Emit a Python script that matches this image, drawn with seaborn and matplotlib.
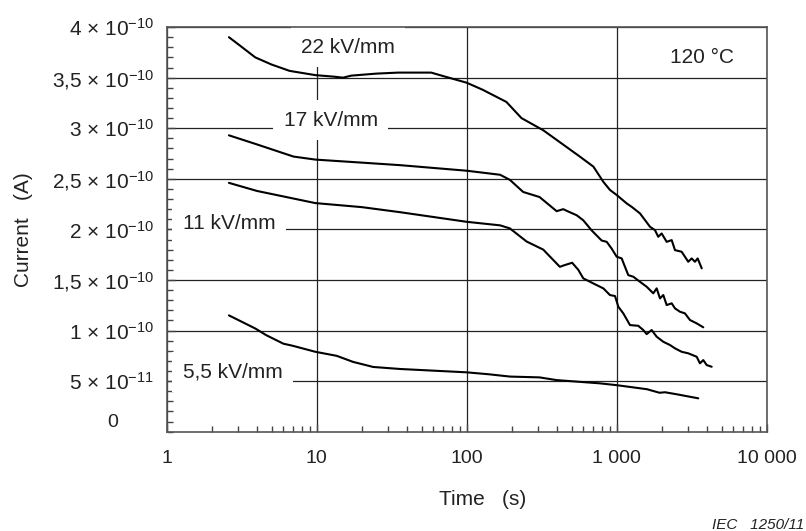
import matplotlib
matplotlib.use("Agg")
import matplotlib.pyplot as plt
import numpy as np
import pandas as pd
import seaborn as sns
from matplotlib.ticker import MultipleLocator, NullFormatter

# time (s) and current (units of 1e-10 A)
t_22 = [2.6, 3.0, 3.9, 5.0, 6.6, 9.8, 13, 15, 17, 25, 35, 58, 70, 100, 128, 184, 232,
        324, 568, 700, 815, 902, 1000, 1166, 1259, 1430, 1545, 1667, 1800, 1893, 1995,
        2154, 2327, 2448, 2712, 3000, 3162, 3326, 3467, 3690]
i_22 = [3.90, 3.83, 3.70, 3.63, 3.567, 3.525, 3.51, 3.50, 3.52, 3.54, 3.55, 3.55, 3.515,
        3.45, 3.38, 3.26, 3.10, 2.98, 2.72, 2.62, 2.47, 2.39, 2.34, 2.257, 2.223, 2.158,
        2.092, 2.026, 1.993, 1.927, 1.96, 1.877, 1.894, 1.795, 1.779, 1.68, 1.713, 1.68,
        1.713, 1.615]

t_17 = [2.6, 4, 7, 9.8, 20, 36, 100, 167, 194, 238, 306, 398, 440, 470, 541, 599, 681,
        794, 858, 926, 1000, 1080, 1136, 1195, 1291, 1430, 1585, 1754, 1848, 1944, 2046,
        2154, 2327, 2448, 2642, 2851, 3081, 3415, 3779]
i_17 = [2.93, 2.84, 2.72, 2.69, 2.66, 2.635, 2.58, 2.54, 2.49, 2.37, 2.32, 2.18, 2.20,
        2.18, 2.14, 2.09, 1.99, 1.89, 1.877, 1.81, 1.73, 1.713, 1.63, 1.548, 1.532, 1.482,
        1.433, 1.368, 1.417, 1.318, 1.351, 1.252, 1.269, 1.219, 1.186, 1.17, 1.104, 1.071,
        1.032]

t_11 = [2.6, 4, 9.8, 20, 36, 100, 167, 194, 251, 324, 418, 450, 505, 555, 599, 698, 815,
        902, 975, 1026, 1107, 1227, 1393, 1504, 1585, 1711, 1848, 2046, 2266, 2448, 2712,
        3000, 3415, 3589, 3779, 3981, 4300]
i_11 = [2.46, 2.38, 2.26, 2.22, 2.17, 2.075, 2.04, 2.01, 1.88, 1.80, 1.63, 1.647, 1.67,
        1.60, 1.516, 1.466, 1.417, 1.351, 1.341, 1.235, 1.17, 1.054, 1.047, 1.005, 0.965,
        1.005, 0.939, 0.889, 0.857, 0.824, 0.79, 0.775, 0.741, 0.676, 0.708, 0.659, 0.642]

t_55 = [2.6, 3.9, 4.6, 6.0, 6.9, 9.8, 13.6, 17.5, 23.8, 36, 100, 142, 194, 306, 398, 774,
        1000, 1592, 1931, 2100, 2512, 3500]
i_55 = [1.15, 1.02, 0.955, 0.87, 0.85, 0.79, 0.75, 0.69, 0.64, 0.62, 0.587, 0.567, 0.545,
        0.537, 0.51, 0.478, 0.46, 0.42, 0.385, 0.39, 0.37, 0.33]

x_ticks = [1, 10, 100, 1000, 10000]
x_tick_labels = ["1", "10", "100", "1 000", "10 000"]
y_ticks = [5e-11, 1e-10, 1.5e-10, 2e-10, 2.5e-10, 3e-10, 3.5e-10, 4e-10]
y_tick_labels = ["5 × 10$^{-11}$", "1 × 10$^{-10}$", "1,5 × 10$^{-10}$", "2 × 10$^{-10}$",
                 "2,5 × 10$^{-10}$", "3 × 10$^{-10}$", "3,5 × 10$^{-10}$", "4 × 10$^{-10}$"]

# curve labels: (text, time, current)
curve_labels = [
    ("22 kV/mm", 16.2, 3.80e-10),
    ("17 kV/mm", 12.4, 3.08e-10),
    ("11 kV/mm", 2.6, 2.06e-10),
    ("5,5 kV/mm", 2.75, 0.59e-10),
    ("120 °C", 3733, 3.70e-10),
]

frames = []
for name, t, i in [("22", t_22, i_22), ("17", t_17, i_17), ("11", t_11, i_11), ("5.5", t_55, i_55)]:
    frames.append(pd.DataFrame({"time": t, "current": np.array(i) * 1e-10, "field": name}))
df = pd.concat(frames, ignore_index=True)

sns.set_theme(style="ticks")
plt.rcParams["font.family"] = ["Liberation Sans", "DejaVu Sans"]
plt.rcParams["mathtext.fontset"] = "custom"
plt.rcParams["mathtext.rm"] = "Liberation Sans"
plt.rcParams["mathtext.it"] = "Liberation Sans:italic"
plt.rcParams["mathtext.bf"] = "Liberation Sans:bold"

fig = plt.figure(figsize=(8.06, 5.31), dpi=100)
ax = fig.add_axes([0.2068, 0.187, 0.7444, 0.762])

for name in df["field"].unique():
    sub = df[df["field"] == name]
    sns.lineplot(data=sub, x="time", y="current", ax=ax, color="black", lw=1.5,
                 estimator=None, sort=False, zorder=4)

ax.set_xscale("log")
ax.set_xlim(1, 10000)
ax.set_ylim(0, 4e-10)
ax.set_xticks(x_ticks, labels=x_tick_labels)
ax.xaxis.set_minor_formatter(NullFormatter())
ax.set_yticks(y_ticks, labels=y_tick_labels)
ax.yaxis.set_minor_locator(MultipleLocator(1e-11))

ax.tick_params(axis="both", which="major", direction="in", length=6, width=1,
               color="#444444", labelsize=14, labelcolor="#222222")
ax.tick_params(axis="both", which="minor", direction="in", length=4, width=1, color="#444444")
ax.tick_params(axis="x", which="major", pad=13)
ax.tick_params(axis="y", which="major", pad=9, labelsize=15)

ax.set_axisbelow(True)
ax.grid(True, which="major", color="#222222", lw=0.9)
for s in ax.spines.values():
    s.set_color("#555555")
    s.set_linewidth(1.2)
    s.set_zorder(6)

# zero label sits apart from the others
ax.text(-0.09, 0.09e-10, "0", transform=ax.get_yaxis_transform(), ha="center",
        va="center", fontsize=14, color="#222222")

for txt, tx, ty in curve_labels:
    ax.text(tx, ty, txt, ha="center", va="center", fontsize=15, color="#222222", zorder=3,
            bbox=dict(boxstyle="square,pad=0.5", fc="white", ec="none"))

ax.set_xlabel("Time   (s)", fontsize=15, color="#222222")
ax.xaxis.set_label_coords(0.527, -0.145)
ax.set_ylabel("Current   (A)", fontsize=15, color="#222222")
ax.yaxis.set_label_coords(-0.238, 0.5)
ax.yaxis.label.set_va("center")

fig.text(0.883, 0.011, "IEC   1250/11", ha="left", va="center", fontsize=11,
         style="italic", color="#222222")

fig.savefig("out.png", dpi=100)
